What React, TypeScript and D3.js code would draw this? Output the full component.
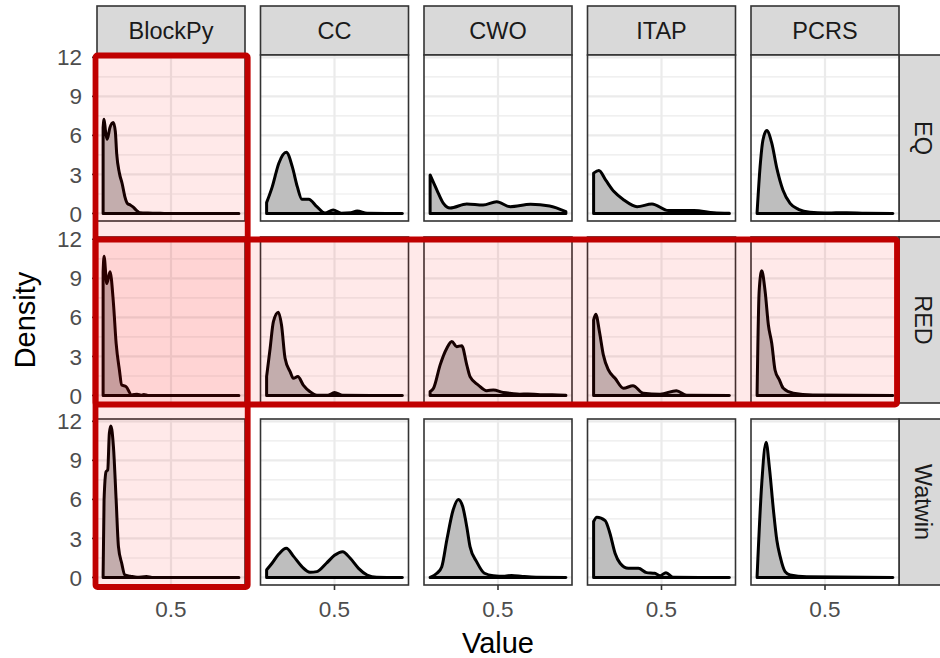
import React from "react";
import * as d3 from "d3";

const systems = ["BlockPy", "CC", "CWO", "ITAP", "PCRS"];
const metrics = ["EQ", "RED", "Watwin"];
const yTicks = [0, 3, 6, 9, 12];
const yMinor = [1.5, 4.5, 7.5, 10.5];
const xTicks = [0.5];
const xTickLabels = ["0.5"];

// density curves: [value, density]
const BlockPy_EQ = [[0,6.6],[0.007,7.25],[0.018,6.3],[0.03,5.7],[0.05,6.6],[0.075,7.0],[0.09,6.3],[0.1,4.6],[0.12,3.1],[0.14,2.3],[0.16,1.3],[0.18,0.75],[0.2,0.65],[0.22,0.5],[0.25,0.2],[0.27,0.06],[0.33,0.03],[0.4,0.02],[0.45,0],[1,0]];
const CC_EQ = [[0,0.83],[0.042,2.06],[0.09,3.86],[0.145,4.7],[0.189,3.6],[0.226,2.06],[0.26,1.09],[0.31,1.1],[0.37,0.52],[0.43,0.03],[0.49,0.27],[0.55,0.02],[0.62,0.05],[0.667,0.19],[0.74,0.01],[1,0]];
const CWO_EQ = [[0,2.96],[0.05,1.8],[0.098,0.78],[0.147,0.42],[0.27,0.73],[0.39,0.65],[0.49,0.9],[0.59,0.52],[0.74,0.7],[0.88,0.58],[1,0.14]];
const ITAP_EQ = [[0,3.1],[0.039,3.3],[0.088,2.58],[0.15,1.68],[0.223,1.04],[0.32,0.52],[0.43,0.73],[0.55,0.22],[0.74,0.22],[0.885,0.06],[1,0.01]];
const PCRS_EQ = [[0,0.1],[0.022,3.6],[0.043,5.65],[0.071,6.37],[0.108,5.4],[0.145,3.48],[0.19,1.8],[0.243,0.78],[0.304,0.32],[0.39,0.09],[0.5,0.04],[0.66,0.05],[0.8,0.01],[1,0]];

const BlockPy_RED = [[0,9.5],[0.007,10.7],[0.027,8.6],[0.051,9.5],[0.076,7.1],[0.096,4.0],[0.12,1.96],[0.137,0.8],[0.169,0.68],[0.21,0.04],[0.25,0.1],[0.28,0.02],[0.3,0.08],[0.33,0],[1,0]];
const CC_RED = [[0,1.45],[0.026,3.63],[0.05,5.68],[0.087,6.4],[0.11,5.4],[0.136,2.86],[0.173,1.83],[0.197,1.32],[0.23,1.45],[0.27,0.8],[0.32,0.29],[0.37,0.02],[0.45,0.01],[0.5,0.22],[0.56,0.01],[1,0]];
const CWO_RED = [[0,0.3],[0.025,0.55],[0.074,2.35],[0.123,3.63],[0.16,4.14],[0.196,3.75],[0.233,3.83],[0.27,2.35],[0.294,1.45],[0.355,0.8],[0.417,0.37],[0.466,0.42],[0.54,0.22],[0.6,0.15],[0.66,0.1],[0.72,0.12],[0.81,0.05],[0.9,0.06],[1,0.01]];
const ITAP_RED = [[0,5.8],[0.016,6.25],[0.043,4.9],[0.072,3.1],[0.109,1.96],[0.158,1.32],[0.22,0.55],[0.29,0.75],[0.366,0.17],[0.49,0.1],[0.61,0.37],[0.685,0.01],[1,0]];
const PCRS_RED = [[0,0.2],[0.015,8],[0.034,9.58],[0.059,8],[0.083,5.42],[0.108,4.0],[0.132,1.96],[0.164,1.2],[0.193,0.55],[0.267,0.17],[0.41,0.04],[1,0]];

const BlockPy_Watwin = [[0,0.2],[0.007,5.96],[0.022,8.14],[0.034,8.27],[0.046,11.1],[0.057,11.65],[0.076,10.06],[0.096,5.96],[0.113,2.37],[0.137,1.09],[0.16,0.19],[0.2,0.1],[0.25,0.01],[0.32,0.08],[0.36,0],[1,0]];
const CC_Watwin = [[0,0.58],[0.04,1.09],[0.09,1.8],[0.145,2.24],[0.2,1.6],[0.26,0.83],[0.32,0.4],[0.37,0.45],[0.44,1.09],[0.5,1.7],[0.56,1.98],[0.616,1.47],[0.677,0.7],[0.74,0.19],[0.81,0.01],[1,0]];
const CWO_Watwin = [[0,0.01],[0.05,0.32],[0.086,0.83],[0.123,2.88],[0.17,5.2],[0.208,6.0],[0.24,5.45],[0.27,3.9],[0.294,2.37],[0.343,1.2],[0.4,0.32],[0.466,0.14],[0.55,0.1],[0.6,0.15],[0.68,0.08],[0.78,0.02],[1,0]];
const ITAP_Watwin = [[0,4.3],[0.024,4.63],[0.085,4.37],[0.12,3.4],[0.158,1.86],[0.195,1.09],[0.256,0.7],[0.33,0.7],[0.39,0.37],[0.45,0.32],[0.49,0.14],[0.533,0.37],[0.587,0.01],[1,0]];
const PCRS_Watwin = [[0,0.1],[0.034,7.2],[0.066,10.4],[0.09,8.5],[0.12,5.2],[0.145,2.88],[0.17,1.6],[0.206,0.45],[0.243,0.19],[0.365,0.05],[1,0]];

const densities: Record<string, number[][]> = {
  BlockPy_EQ, CC_EQ, CWO_EQ, ITAP_EQ, PCRS_EQ,
  BlockPy_RED, CC_RED, CWO_RED, ITAP_RED, PCRS_RED,
  BlockPy_Watwin, CC_Watwin, CWO_Watwin, ITAP_Watwin, PCRS_Watwin,
};

const highlightCols = ["BlockPy"];
const highlightRows = ["RED"];

const W = 940, H = 658;
const left = 97, top = 55, pw = 148, ph = 166, hgap = 15.5, vgap = 16;
const stripH = 49;
const font = "'Liberation Sans', Arial, Helvetica, sans-serif";

export default function App() {
  const x = d3.scaleLinear().domain([-0.045, 1.045]).range([0, pw]);
  const y = d3.scaleLinear().domain([-0.58, 12.18]).range([ph, 0]);
  const area = d3.area<number[]>()
    .x((d) => x(d[0]))
    .y0(y(0))
    .y1((d) => y(d[1]))
    .curve(d3.curveMonotoneX);

  const colX = (i: number) => left + i * (pw + hgap);
  const rowY = (j: number) => top + j * (ph + vgap);
  const rightEdge = colX(systems.length - 1) + pw;
  const bottomEdge = rowY(metrics.length - 1) + ph;

  const hl: { x: number; y: number; w: number; h: number }[] = [];
  highlightCols.forEach((c) => {
    const i = systems.indexOf(c);
    hl.push({ x: colX(i) - 1.5, y: top + 0.5, w: pw + 4.2, h: bottomEdge - top + 1.5 });
  });
  highlightRows.forEach((r) => {
    const j = metrics.indexOf(r);
    hl.push({ x: left - 1.5, y: rowY(j) + 2.5, w: rightEdge - left - 0.5, h: ph - 1 });
  });

  return (
    <svg width={W} height={H} style={{ position: "absolute", left: 0, top: 0, background: "#fff" }} fontFamily={font}>
      {/* column strips */}
      {systems.map((s, i) => (
        <g key={"cs" + s}>
          <rect x={colX(i)} y={top - stripH} width={pw} height={stripH} fill="#D9D9D9" stroke="#333333" strokeWidth={1.6} />
          <text x={colX(i) + pw / 2} y={top - stripH / 2} dy="0.36em" textAnchor="middle" fontSize={23.5} fill="#1A1A1A">{s}</text>
        </g>
      ))}
      {/* row strips */}
      {metrics.map((m, j) => (
        <g key={"rs" + m}>
          <rect x={rightEdge} y={rowY(j)} width={stripH} height={ph} fill="#D9D9D9" stroke="#333333" strokeWidth={1.6} />
          <text transform={`translate(${rightEdge + stripH / 2},${rowY(j) + ph / 2}) rotate(90)`} dy="0.36em" textAnchor="middle" fontSize={23.5} fill="#1A1A1A">{m}</text>
        </g>
      ))}
      {/* panels */}
      {metrics.map((m, j) =>
        systems.map((s, i) => {
          const d = densities[`${s}_${m}`];
          return (
            <g key={s + m} transform={`translate(${colX(i)},${rowY(j)})`}>
              <rect width={pw} height={ph} fill="#FFFFFF" />
              {yMinor.map((t) => (
                <line key={"mn" + t} x1={0} x2={pw} y1={y(t)} y2={y(t)} stroke="#EBEBEB" strokeWidth={1.1} />
              ))}
              {yTicks.map((t) => (
                <line key={"mj" + t} x1={0} x2={pw} y1={y(t)} y2={y(t)} stroke="#EBEBEB" strokeWidth={2.2} />
              ))}
              {xTicks.map((t) => (
                <line key={"xv" + t} x1={x(t)} x2={x(t)} y1={0} y2={ph} stroke="#EBEBEB" strokeWidth={2.2} />
              ))}
              <path d={area(d) || ""} fill="#BEBEBE" stroke="#000" strokeWidth={3} strokeLinejoin="round" />
              <rect width={pw} height={ph} fill="none" stroke="#333333" strokeWidth={1.6} />
            </g>
          );
        })
      )}
      {/* y axes */}
      {metrics.map((m, j) => (
        <g key={"ya" + m} transform={`translate(${left},${rowY(j)})`}>
          {yTicks.map((t) => (
            <g key={t}>
              <line x1={-5} x2={0} y1={y(t)} y2={y(t)} stroke="#333333" strokeWidth={1.6} />
              <text x={-15} y={y(t)} dy="0.36em" textAnchor="end" fontSize={22.5} fill="#4D4D4D">{t}</text>
            </g>
          ))}
        </g>
      ))}
      {/* x axes */}
      {systems.map((s, i) => (
        <g key={"xa" + s} transform={`translate(${colX(i)},${bottomEdge})`}>
          {xTicks.map((t, k) => (
            <g key={t}>
              <line x1={x(t)} x2={x(t)} y1={0} y2={5} stroke="#333333" strokeWidth={1.6} />
              <text x={x(t)} y={31.5} textAnchor="middle" fontSize={22.5} fill="#4D4D4D">{xTickLabels[k]}</text>
            </g>
          ))}
        </g>
      ))}
      {/* axis titles */}
      <text x={(left + rightEdge) / 2} y={653} textAnchor="middle" fontSize={29} fill="#000">Value</text>
      <text transform={`translate(35,${(top + bottomEdge) / 2}) rotate(-90)`} textAnchor="middle" fontSize={29} fill="#000">Density</text>
      {/* highlights */}
      {hl.map((r, k) => (
        <rect key={"hf" + k} x={r.x} y={r.y} width={r.w} height={r.h} fill="#FF0000" fillOpacity={0.085} />
      ))}
      {hl.map((r, k) => (
        <rect key={"hs" + k} x={r.x} y={r.y} width={r.w} height={r.h} rx={2} fill="none" stroke="#C00000" strokeWidth={5.8} />
      ))}
    </svg>
  );
}
